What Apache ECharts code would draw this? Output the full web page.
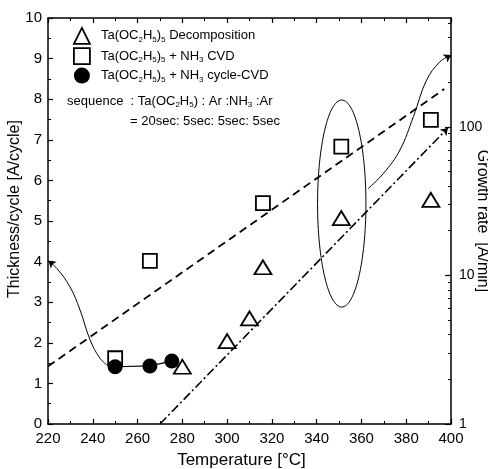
<!DOCTYPE html>
<html>
<head>
<meta charset="utf-8">
<script src="https://cdn.jsdelivr.net/npm/echarts@6/dist/echarts.min.js"></script>
<style>
  html, body { margin: 0; padding: 0; background: #fff; }
  #main { width: 488px; height: 469px; }
</style>
</head>
<body>
<div id="main"></div>
<script>
// values (left axis units)
var triTemps = [280, 300, 310, 316, 351, 391];
var triVals = [1.41, 2.04, 2.6, 3.86, 5.07, 5.52];
var sqTemps = [250, 265.5, 316, 351, 391];
var sqVals = [1.62, 4.02, 5.44, 6.83, 7.49];
var dotTemps = [250, 265.5, 275.3];
var dotVals = [1.41, 1.43, 1.55];

// guide lines and curves
var dashedFit = [[220, 1.42], [397, 8.25]];
var dashDotFit = [[270, 0], [398.6, 7.29]];
var leftCurve = [[220.5, 4.0], [224, 3.83], [229.8, 3.38], [234.3, 2.81], [238.8, 2.07], [243.2, 1.62], [246.5, 1.45]];
var rightCurve = [[363, 5.8], [369.8, 6.17], [377.2, 6.75], [383.2, 7.57], [389.1, 8.47], [395, 8.92], [399.5, 9.07]];
var arrowTips = [[[221.5, 3.96], [220.2, 4.02]], [[398.2, 9.03], [400, 9.09]]];
var ellipse = { center: [351.2, 5.43], radius: [10.8, 2.55] };

// right (growth rate) axis minor ticks
var logMinor = [2, 3, 4, 5, 6, 7, 8, 9, 20, 30, 40, 50, 60, 70, 80, 90, 200, 300, 400, 500];

var names = ['Ta(OC2H5)5 Decomposition', 'Ta(OC2H5)5 + NH3 CVD', 'Ta(OC2H5)5 + NH3 cycle-CVD'];
var richNames = {};
richNames[names[0]] = 'Ta(OC{s|2}H{s|5}){s|5} Decomposition';
richNames[names[1]] = 'Ta(OC{s|2}H{s|5}){s|5} + NH{s|3} CVD';
richNames[names[2]] = 'Ta(OC{s|2}H{s|5}){s|5} + NH{s|3} cycle-CVD';

function zip(a, b) {
  return a.map(function (v, i) { return [v, b[i]]; });
}

var FONT = 'Liberation Sans, Arial, sans-serif';
var sub = { fontSize: 8, lineHeight: 8, verticalAlign: 'bottom', fontFamily: FONT, color: '#000' };

var myChart = echarts.init(document.getElementById('main'));

var option = {
  backgroundColor: '#fff',
  animation: false,
  textStyle: { fontFamily: FONT, color: '#000' },
  grid: { left: 48, right: 37, top: 18, bottom: 45, outerBoundsMode: 'none', containLabel: false },
  legend: {
    orient: 'vertical',
    left: 68,
    top: 22,
    itemWidth: 16,
    itemHeight: 16,
    itemGap: 2.5,
    selectedMode: false,
    formatter: function (n) { return richNames[n]; },
    textStyle: {
      fontSize: 13, lineHeight: 16, fontFamily: FONT, color: '#000', padding: [0, 0, 0, 6],
      rich: { s: sub }
    },
    data: [
      { name: names[0], icon: 'triangle', itemStyle: { color: '#fff', borderColor: '#000', borderWidth: 1.8 } },
      { name: names[1], icon: 'rect', itemStyle: { color: '#fff', borderColor: '#000', borderWidth: 1.8 } },
      { name: names[2], icon: 'circle', itemStyle: { color: '#000', borderWidth: 0 } }
    ]
  },
  graphic: [
    {
      type: 'text', left: 67, top: 93,
      style: {
        text: 'sequence  : Ta(OC{s|2}H{s|5}) : Ar :NH{s|3} :Ar',
        fontSize: 13, lineHeight: 16, fontFamily: FONT, fill: '#000', rich: { s: sub }
      }
    },
    {
      type: 'text', left: 130, top: 113,
      style: { text: '= 20sec: 5sec: 5sec: 5sec', fontSize: 13, lineHeight: 16, fontFamily: FONT, fill: '#000' }
    }
  ],
  xAxis: [
    {
      type: 'value', min: 220, max: 400, interval: 20,
      name: 'Temperature [°C]', nameLocation: 'middle', nameGap: 28, nameMoveOverlap: false,
      nameTextStyle: { fontSize: 17, fontFamily: FONT, color: '#000', padding: [0, 16, 0, 0] },
      axisLine: { lineStyle: { color: '#000', width: 1.5 } },
      axisTick: { inside: true, length: 5, lineStyle: { color: '#000', width: 1.2 } },
      minorTick: { show: true, splitNumber: 2, length: 3, lineStyle: { color: '#000', width: 1 } },
      axisLabel: { fontSize: 15, margin: 7, color: '#000', fontFamily: FONT },
      splitLine: { show: false }
    },
    {
      type: 'value', min: 220, max: 400, interval: 20, position: 'top',
      axisLine: { lineStyle: { color: '#000', width: 1.5 } },
      axisTick: { inside: true, length: 5, lineStyle: { color: '#000', width: 1.2 } },
      minorTick: { show: true, splitNumber: 2, length: 3, lineStyle: { color: '#000', width: 1 } },
      axisLabel: { show: false },
      splitLine: { show: false }
    }
  ],
  yAxis: [
    {
      type: 'value', min: 0, max: 10, interval: 1,
      name: 'Thickness/cycle [A/cycle]', nameLocation: 'middle', nameGap: 25, nameRotate: 90,
      nameMoveOverlap: false,
      nameTextStyle: { fontSize: 16, fontFamily: FONT, color: '#000', padding: [0, 0, 0, 24] },
      axisLine: { lineStyle: { color: '#000', width: 1.5 } },
      axisTick: { inside: true, length: 5, lineStyle: { color: '#000', width: 1.2 } },
      minorTick: { show: true, splitNumber: 2, length: 3, lineStyle: { color: '#000', width: 1 } },
      axisLabel: { fontSize: 15, margin: 6, color: '#000', fontFamily: FONT },
      splitLine: { show: false }
    },
    {
      type: 'log', logBase: 10, min: 1, max: 540, position: 'right',
      name: 'Growth rate  [A/min]', nameLocation: 'middle', nameGap: 23, nameRotate: -90,
      nameMoveOverlap: false,
      nameTextStyle: { fontSize: 16, fontFamily: FONT, color: '#000' },
      axisLine: { show: true, lineStyle: { color: '#000', width: 1.5 } },
      axisTick: { inside: true, length: 6, lineStyle: { color: '#000', width: 1.2 } },
      axisLabel: { fontSize: 14, margin: 8, color: '#000', fontFamily: FONT, showMaxLabel: false },
      splitLine: { show: false }
    },
    {
      type: 'log', logBase: 10, min: 1, max: 540, position: 'right',
      axisLine: { show: false },
      axisTick: { show: true, inside: true, length: 3, customValues: logMinor, lineStyle: { color: '#000', width: 1 } },
      axisLabel: { show: false },
      splitLine: { show: false }
    }
  ],
  series: [
    {
      name: 'dashed fit', type: 'line', data: dashedFit, symbol: 'none', silent: true,
      lineStyle: { color: '#000', width: 1.8, type: [8, 5] }
    },
    {
      name: 'dash-dot fit', type: 'lines', coordinateSystem: 'cartesian2d', silent: true,
      symbol: ['none', 'arrow'], symbolSize: 7,
      lineStyle: { color: '#000', width: 1.6, type: [9, 3, 2, 3], opacity: 1 },
      data: [{ coords: dashDotFit }]
    },
    {
      name: 'left curve', type: 'line', data: leftCurve, symbol: 'none', smooth: 0.4, silent: true,
      lineStyle: { color: '#000', width: 1 }
    },
    {
      name: 'right curve', type: 'line', data: rightCurve, symbol: 'none', smooth: 0.4, silent: true,
      lineStyle: { color: '#000', width: 1 }
    },
    {
      name: 'arrows', type: 'lines', coordinateSystem: 'cartesian2d', silent: true,
      symbol: ['none', 'arrow'], symbolSize: 7,
      lineStyle: { color: '#000', width: 1, opacity: 1 },
      data: arrowTips.map(function (c) { return { coords: c }; })
    },
    {
      name: 'ellipse', type: 'custom', silent: true,
      data: [ellipse.center],
      renderItem: function (params, api) {
        var c = api.coord([api.value(0), api.value(1)]);
        var s = api.size(ellipse.radius);
        return {
          type: 'ellipse',
          shape: { cx: c[0], cy: c[1], rx: s[0], ry: s[1] },
          style: { fill: 'none', stroke: '#000', lineWidth: 1 }
        };
      }
    },
    {
      name: names[0], type: 'scatter', data: zip(triTemps, triVals),
      symbol: 'triangle', symbolSize: [17, 14],
      itemStyle: { color: '#fff', borderColor: '#000', borderWidth: 1.8, opacity: 1 }
    },
    {
      name: names[1], type: 'scatter', data: zip(sqTemps, sqVals),
      symbol: 'rect', symbolSize: 14,
      itemStyle: { color: '#fff', borderColor: '#000', borderWidth: 1.8, opacity: 1 }
    },
    {
      name: names[2], type: 'line', data: zip(dotTemps, dotVals),
      symbol: 'circle', symbolSize: 15,
      itemStyle: { color: '#000' },
      lineStyle: { color: '#000', width: 1.2 }
    }
  ]
};

myChart.setOption(option);
</script>
</body>
</html>
